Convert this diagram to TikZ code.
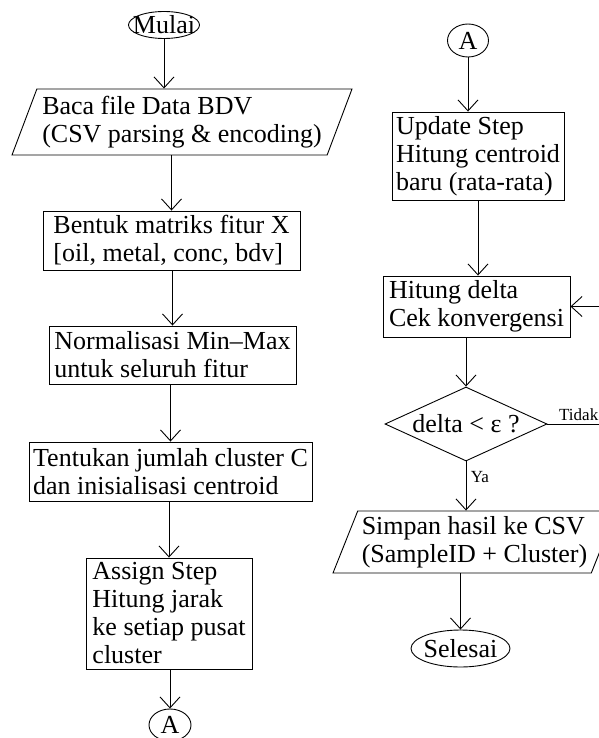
\documentclass[tikz,border=0pt]{standalone}
\usepackage{fontspec}
\setmainfont{Liberation Serif}
\usetikzlibrary{shapes.geometric,arrows.meta}

\tikzset{
  proses/.style={draw, rectangle, align=left, inner xsep=3pt, inner ysep=1pt},
  terminal/.style={draw, ellipse, inner xsep=-6pt, inner ysep=0pt},
  data/.style={draw, trapezium, trapezium left angle=67, trapezium right angle=113,
    trapezium stretches body, align=left},
  keputusan/.style={draw, diamond, aspect=2.2, inner sep=0pt},
  panah/.style={-{Straight Barb[length=11pt,width=20pt]}},
  kecil/.style={font=\fontsize{17}{19}\selectfont}
}

\begin{document}
\begin{tikzpicture}[x=1pt, y=-1pt, line width=0.9pt, font=\fontsize{26}{28}\selectfont]
\useasboundingbox (0,0) rectangle (598,738);

% kolom kiri
\node[terminal, minimum width=71pt, minimum height=27pt] (mulai) at (164,25) {Mulai};
\node[data, minimum width=340pt, minimum height=66pt] (baca) at (182,122)
  {Baca file Data BDV\\(CSV parsing \& encoding)};
\node[proses, minimum width=257pt, minimum height=59pt] (bentuk) at (171.5,240.5)
  {Bentuk matriks fitur X\\{}[oil, metal, conc, bdv]};
\node[proses, minimum width=247pt, minimum height=58pt] (normal) at (172.5,355)
  {Normalisasi Min–Max\\untuk seluruh fitur};
\node[proses, minimum width=283pt, minimum height=59pt] (tentukan) at (170.5,471.5)
  {Tentukan jumlah cluster C\\dan inisialisasi centroid};
\node[proses, minimum width=166pt, minimum height=111pt] (assign) at (169,613.5)
  {Assign Step\\Hitung jarak\\ke setiap pusat\\cluster};
\node[terminal, minimum width=42pt, minimum height=32pt] (konA) at (170,725) {A};

% kolom kanan
\node[terminal, minimum width=41pt, minimum height=33pt] (konB) at (468,40.5) {A};
\node[proses, minimum width=172pt, minimum height=88pt] (update) at (478,156)
  {Update Step\\Hitung centroid\\baru (rata-rata)};
\node[proses, minimum width=187pt, minimum height=61pt] (hitung) at (476.5,306.5)
  {Hitung delta\\Cek konvergensi};
\node[keputusan, minimum width=162pt, minimum height=74pt] (cek) at (466,424) {delta < ε ?};
\node[data, minimum width=283pt, minimum height=62pt] (simpan) at (474.5,542)
  {Simpan hasil ke CSV\\(SampleID + Cluster)};
\node[terminal, minimum width=99pt, minimum height=37pt] (selesai) at (460.5,648.5) {Selesai};
\coordinate (balik) at (610,360);

\draw[panah] (mulai) -- (mulai |- baca.north);
\draw[panah] (bentuk |- baca.south) -- (bentuk.north);
\draw[panah] (normal |- bentuk.south) -- (normal.north);
\draw[panah] (tentukan |- normal.south) -- (tentukan.north);
\draw[panah] (assign |- tentukan.south) -- (assign.north);
\draw[panah] (konA |- assign.south) -- (konA.north);

\draw[panah] (konB) -- (konB |- update.north);
\draw[panah] (update.south) -- (update.south |- hitung.north);
\draw[panah] (cek |- hitung.south) -- (cek.north);
\draw[panah] (cek.south) -- (cek.south |- simpan.north) node[kecil, pos=0.32, right=1pt] {Ya};
\draw[panah] (selesai |- simpan.south) -- (selesai.north);
\draw[panah] (cek.east) -| (balik) node[kecil, pos=0.25, above] {Tidak} |- (hitung.east);
\end{tikzpicture}
\end{document}
